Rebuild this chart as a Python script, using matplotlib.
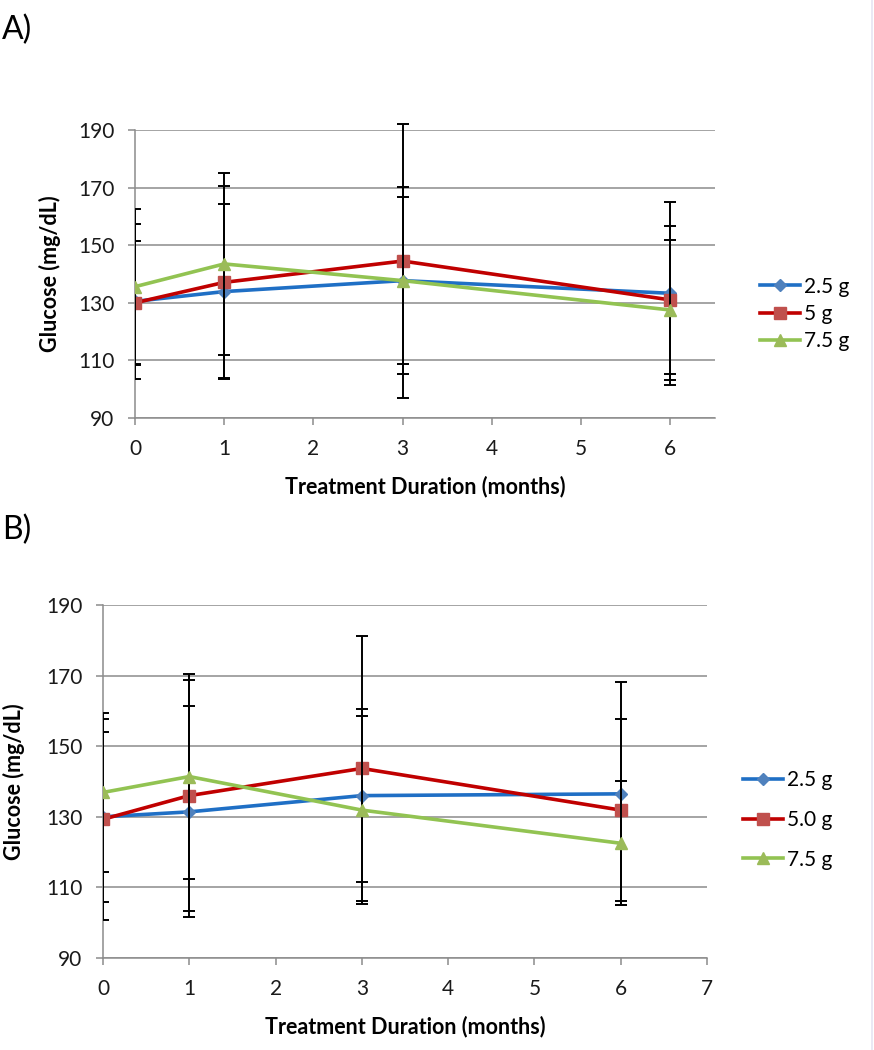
import matplotlib
matplotlib.use("Agg")
import matplotlib.pyplot as plt
from matplotlib.lines import Line2D
from matplotlib.patches import Rectangle

plt.rcParams['font.family'] = ['Lato', 'DejaVu Sans']

# ---- Data ----
months = [0, 1, 3, 6]
series_labels_a = ["2.5 g", "5 g", "7.5 g"]
series_labels_b = ["2.5 g", "5.0 g", "7.5 g"]

a_low = [130.5, 133.9, 137.7, 133.3]
a_mid = [130.0, 137.1, 144.5, 131.0]
a_high = [135.6, 143.5, 137.7, 127.5]
a_low_sd = [26.8, 30.5, 28.9, 31.8]
a_mid_sd = [21.5, 33.3, 47.5, 25.8]
a_high_sd = [27.0, 31.5, 32.5, 24.2]

b_low = [130.0, 131.4, 136.0, 136.5]
b_mid = [129.3, 136.0, 143.7, 131.9]
b_high = [136.9, 141.4, 131.9, 122.5]
b_low_sd = [24.0, 29.9, 24.5, 31.6]
b_mid_sd = [28.5, 32.8, 37.5, 25.7]
b_high_sd = [22.4, 29.0, 26.7, 17.6]

y_ticks = [90, 110, 130, 150, 170, 190]
x_ticks_a = [0, 1, 2, 3, 4, 5, 6]
x_ticks_b = [0, 1, 2, 3, 4, 5, 6, 7]

# ---- Styles ----
line_colors = ['#1F6FC5', '#C00000', '#92C352']
marker_colors = ['#4F81BD', '#C0504D', '#9BBB59']
markers = ['D', 's', '^']
msizes = [6, 9, 8]
grid_c = '#8C8C8C'
FS = 15
LFS = 15.5

W, H = 874, 1050
fig = plt.figure(figsize=(W / 100, H / 100), dpi=100)


def make_axes(l, r, t, b):
    return fig.add_axes([l / W, 1 - b / H, (r - l) / W, (b - t) / H])


def draw(ax, means, sds, labels, xmax, xticks, leg_anchor, leg_spacing,
         ylpad, xlpad):
    clip = Rectangle((0, -1), 1, 3, transform=ax.transAxes,
                     facecolor='none', edgecolor='none')
    for i, (m, s) in enumerate(zip(means, sds)):
        cont = ax.errorbar(months, m, yerr=s, fmt='none', ecolor='black',
                           elinewidth=1.4, capsize=4, capthick=1.4,
                           zorder=3 + i)
        for art in list(cont.lines[1]) + list(cont.lines[2]):
            art.set_clip_path(clip)
        ax.plot(months, m, color=line_colors[i], lw=2.6, marker=markers[i],
                ms=msizes[i], mfc=marker_colors[i], mec=marker_colors[i],
                zorder=3.5 + i)
    ax.set_xlim(0, xmax)
    ax.set_ylim(90, 190)
    ax.set_yticks(y_ticks)
    ax.set_xticks(xticks)
    ax.yaxis.grid(True, color=grid_c, lw=1.1)
    ax.set_axisbelow(True)
    for sp in ['top', 'right']:
        ax.spines[sp].set_visible(False)
    for sp in ['left', 'bottom']:
        ax.spines[sp].set_color(grid_c)
        ax.spines[sp].set_linewidth(1.1)
    ax.tick_params(axis='both', direction='out', length=5, width=1.1,
                   color=grid_c, labelsize=FS, pad=10, labelcolor='#1a1a1a')
    ax.set_xlabel("Treatment Duration (months)", fontsize=LFS,
                  fontweight='bold', labelpad=xlpad)
    ax.set_ylabel("Glucose (mg/dL)", fontsize=LFS, fontweight='bold',
                  labelpad=ylpad)
    handles = [Line2D([], [], color=line_colors[i], lw=2.6, marker=markers[i],
                      ms=msizes[i], mfc=marker_colors[i], mec=marker_colors[i])
               for i in range(3)]
    ax.legend(handles, labels, loc='center left', bbox_to_anchor=leg_anchor,
              frameon=False, fontsize=FS, handlelength=1.9, handletextpad=0.2,
              labelspacing=leg_spacing, borderpad=0, borderaxespad=0)


axA = make_axes(135, 715, 130, 418)
draw(axA, [a_low, a_mid, a_high], [a_low_sd, a_mid_sd, a_high_sd],
     series_labels_a, 6.5, x_ticks_a, (1.078, 0.361), 0.35, 12, 12)

axB = make_axes(103, 707, 605, 958)
draw(axB, [b_low, b_mid, b_high], [b_low_sd, b_mid_sd, b_high_sd],
     series_labels_b, 7, x_ticks_b, (1.06, 0.391), 0.95, 15, 12)

fig.text(2 / W, 1 - 30 / H, "A)", fontsize=23, va='center', ha='left')
fig.text(2 / W, 1 - 530 / H, "B)", fontsize=23, va='center', ha='left')

fig.add_artist(Line2D([872 / W, 872 / W], [0, 1], color='#E6E4F2', lw=1.2))

fig.savefig("out.png", dpi=100)
